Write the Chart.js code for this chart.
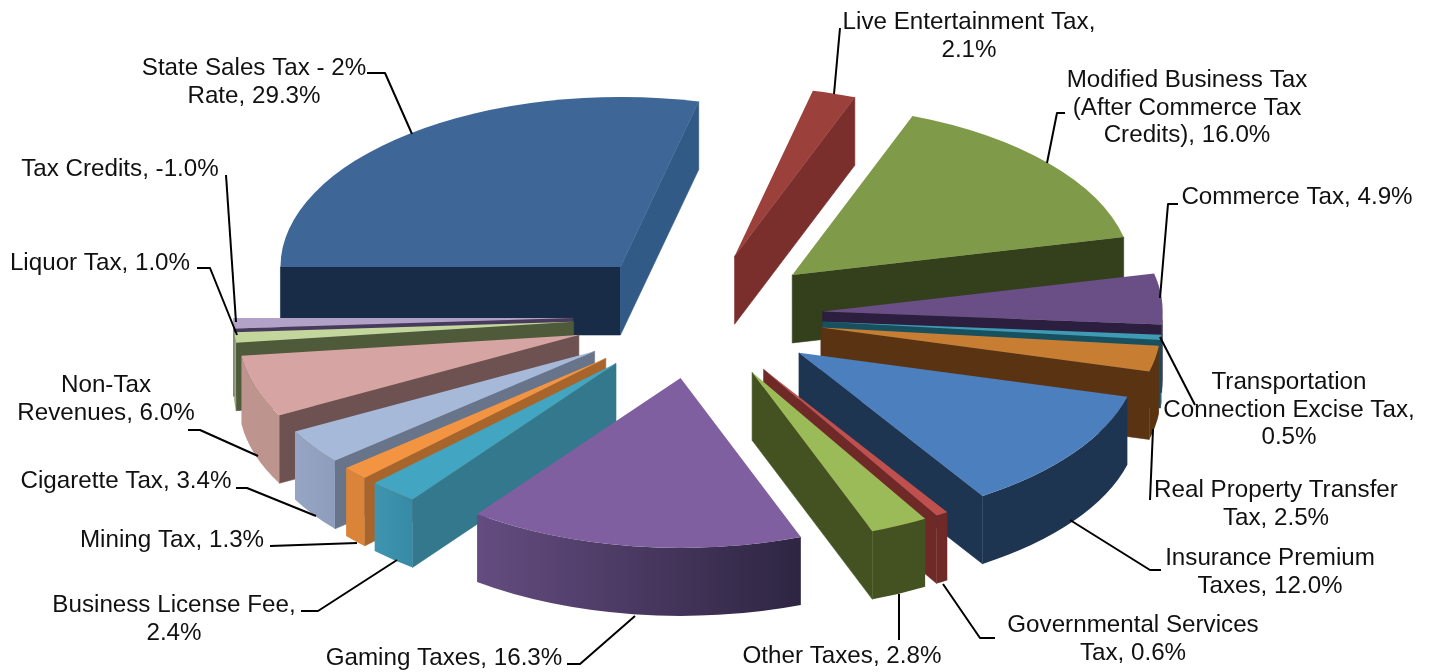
<!DOCTYPE html>
<html>
<head>
<meta charset="utf-8">
<style>html,body{margin:0;padding:0;background:#fff}canvas{display:block}</style>
<script src="https://cdn.jsdelivr.net/npm/chart.js@4/dist/chart.umd.js"></script>
</head>
<body>
<canvas id="c" width="1431" height="672"></canvas>
<script>
// ---- data ----
const categories = ["State Sales Tax - 2% Rate","Live Entertainment Tax","Modified Business Tax (After Commerce Tax Credits)","Commerce Tax","Transportation Connection Excise Tax","Real Property Transfer Tax","Insurance Premium Taxes","Governmental Services Tax","Other Taxes","Gaming Taxes","Business License Fee","Mining Tax","Cigarette Tax","Non-Tax Revenues","Liquor Tax","Tax Credits"];
const shares = [29.3,2.1,16.0,4.9,0.5,2.5,12.0,0.6,2.8,16.3,2.4,1.3,3.4,6.0,1.0,-1.0];
// ---- slice colours ----
const topColors   = ["#3E6696","#9C403C","#7F9A48","#6A4F87","#3F9BB4","#C87E32","#4C7FBD","#C0504D","#9BBB59","#7F5F9F","#42A5C2","#F29441","#A7B9D9","#D6A4A2","#C3D69B","#B3A2C7"];
const startColors = ["#182C47","#7A2F2D","#343F1C","#2C1E3F","#17505F","#5A3412","#1E3552","#6F2A28","#435220","#4E3B66","#33788C","#A8652B","#677489","#6D5251","#4F5A3A","#483A5C"];
const endColors   = ["#325A87","#7A2F2D","#343F1C","#2C1E3F","#17505F","#5A3412","#1E3552","#6F2A28","#435220","#4E3B66","#33788C","#A8652B","#677489","#6D5251","#4F5A3A","#483A5C"];
const outerLeft   = ["#2F5079","#7A2F2D","#343F1C","#2C1E3F","#17505F","#5A3412","#1E3552","#6F2A28","#435220","#644C80","#3F95AF","#D98438","#95A5C3","#BE948F","#98A97A","#8C7FA0"];
const outerRight  = ["#2F5079","#7A2F2D","#343F1C","#2C1E3F","#17505F","#5A3412","#1E3552","#6F2A28","#435220","#2E2542","#368AA5","#D98438","#8D9DBB","#BE948F","#98A97A","#8C7FA0"];
// ---- projection ----
const tilt = 0.5, depth = 68, pieRadius = 340, explode = 125, centerX = 698, centerY = 316;
// ---- labels: lines, centre x, first line centre y, leader polyline ----
const labelLines = [["State Sales Tax - 2%","Rate, 29.3%"],["Live Entertainment Tax,","2.1%"],["Modified Business Tax","(After Commerce Tax","Credits), 16.0%"],["Commerce Tax, 4.9%"],["Transportation","Connection Excise Tax,","0.5%"],["Real Property Transfer","Tax, 2.5%"],["Insurance Premium","Taxes, 12.0%"],["Governmental Services","Tax, 0.6%"],["Other Taxes, 2.8%"],["Gaming Taxes, 16.3%"],["Business License Fee,","2.4%"],["Mining Tax, 1.3%"],["Cigarette Tax, 3.4%"],["Non-Tax","Revenues, 6.0%"],["Liquor Tax, 1.0%"],["Tax Credits, -1.0%"]];
const labelX = [254,969,1187,1297,1289,1276,1270,1133,842,444,174,172,126,106,100,120];
const labelY = [68.5,22.5,80.5,197.5,382.5,490.5,558.5,625.5,656.5,658.5,605.5,540.5,481.5,385.5,263.5,169.5];
const leaders = [[[367,73],[385,73],[412,134]],[[840,28],[834,94]],[[1065,113],[1057,113],[1047,163]],[[1178,204],[1168,204],[1160,298]],[[1160,337],[1195,405]],[[1153,429],[1150,500]],[[1070,520],[1150,570],[1161,570]],[[943,584],[980,638],[995,638]],[[899,594],[899,640]],[[635,616],[580,664],[567,664]],[[397,560],[318,611],[301,611]],[[357,543],[270,546]],[[316,516],[247,488],[236,488]],[[258,456],[200,430],[188,430]],[[237,335],[210,268],[197,268]],[[236,322],[226,175]]];
const labelFont = '24.2px "Liberation Sans", Arial, sans-serif';

function apex(mid){
  return {x: centerX + Math.cos(mid)*explode, y: centerY + Math.sin(mid)*explode*tilt};
}
const pie3d = {
  id: 'pie3d',
  beforeDatasetsDraw(chart){
    const ctx = chart.ctx, arcs = chart.getDatasetMeta(0).data;
    const order = arcs.map((a,i)=>({a,i,p:apex((a.startAngle+a.endAngle)/2)})).sort((u,v)=>u.p.y-v.p.y);
    ctx.save();
    for(const {a,i,p} of order){
      const R = a.outerRadius, s = a.startAngle, e = a.endAngle;
      const pt = t => [p.x+Math.cos(t)*R, p.y+Math.sin(t)*R*tilt];
      const radial = (t,col)=>{
        const q = pt(t);
        ctx.fillStyle = col; ctx.strokeStyle = col; ctx.lineWidth = 0.6; ctx.beginPath();
        ctx.moveTo(p.x,p.y); ctx.lineTo(q[0],q[1]); ctx.lineTo(q[0],q[1]+depth); ctx.lineTo(p.x,p.y+depth);
        ctx.closePath(); ctx.fill(); ctx.stroke();
      };
      if(Math.cos(s)<0) radial(s,startColors[i]);
      if(Math.cos(e)>0) radial(e,endColors[i]);
      // front part of the rim: canvas angles between 0 and PI (mod 2PI)
      for(const k of [-2,0,2]){
        const lo = Math.max(s, k*Math.PI), hi = Math.min(e, (k+1)*Math.PI);
        if(hi<=lo) continue;
        const a0 = pt(lo)[0], a1 = pt(hi)[0];
        const g = ctx.createLinearGradient(Math.min(a0,a1),0,Math.max(a0,a1)+0.01,0);
        g.addColorStop(0,outerLeft[i]); g.addColorStop(1,outerRight[i]);
        ctx.fillStyle = g; ctx.beginPath();
        ctx.ellipse(p.x,p.y,R,R*tilt,0,lo,hi,false);
        ctx.ellipse(p.x,p.y+depth,R,R*tilt,0,hi,lo,true);
        ctx.closePath(); ctx.fill();
      }
    }
    ctx.restore();
  },
  beforeDatasetDraw(chart,args){
    // each slice top is the library's own arc element, moved out and flattened
    const ctx = chart.ctx;
    for(const a of args.meta.data){
      const p = apex((a.startAngle+a.endAngle)/2);
      ctx.save();
      ctx.translate(p.x,p.y); ctx.scale(1,tilt); ctx.translate(-a.x,-a.y);
      a.draw(ctx);
      ctx.restore();
    }
    return false;
  },
  afterDatasetsDraw(chart){
    const ctx = chart.ctx;
    ctx.save();
    ctx.strokeStyle = '#000'; ctx.lineWidth = 2; ctx.lineJoin='round';
    for(const l of leaders){
      ctx.beginPath(); l.forEach((q,j)=> j?ctx.lineTo(q[0],q[1]):ctx.moveTo(q[0],q[1])); ctx.stroke();
    }
    ctx.fillStyle = '#111'; ctx.font = labelFont; ctx.textAlign='center'; ctx.textBaseline='middle';
    labelLines.forEach((lines,i)=>lines.forEach((t,j)=>ctx.fillText(t,labelX[i],labelY[i]+j*27.4)));
    ctx.restore();
  }
};

new Chart(document.getElementById('c').getContext('2d'),{
  type:'pie',
  data:{labels:categories,datasets:[{data:shares,backgroundColor:topColors,borderWidth:0,offset:0,hoverOffset:0,radius:pieRadius,clip:false}]},
  options:{
    responsive:false,animation:false,rotation:-90,
    layout:{padding:0},
    events:[],
    plugins:{legend:{display:false},tooltip:{enabled:false},title:{display:false}}
  },
  plugins:[pie3d]
});
</script>
</body>
</html>
